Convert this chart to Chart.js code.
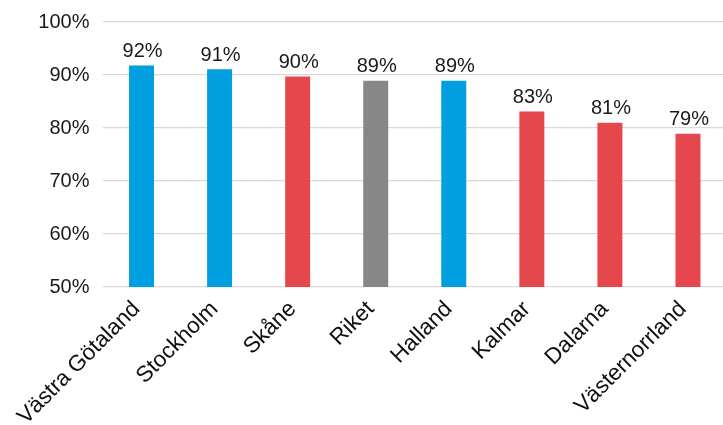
<!DOCTYPE html>
<html><head><meta charset="utf-8">
<script src="https://cdn.jsdelivr.net/npm/chart.js@4"></script>
<style>html,body{margin:0;padding:0;overflow:hidden;background:#fff}#wrap{position:relative;width:727px;height:428px;margin-top:-3px}</style>
</head><body><div id="wrap"><canvas id="c"></canvas></div>
<script>
const categories = ["Västra Götaland","Stockholm","Skåne","Riket","Halland","Kalmar","Dalarna","Västernorrland"];
const values = [91.8, 91.1, 89.7, 88.9, 88.9, 83.1, 81.0, 78.9];
const valueLabels = ["92%","91%","90%","89%","89%","83%","81%","79%"];
const barColors = ["#009fdf","#009fdf","#e6474c","#878787","#009fdf","#e6474c","#e6474c","#e6474c"];
const yTicks = [50, 60, 70, 80, 90, 100];

const FONT = "'Liberation Sans', Arial, Helvetica, sans-serif";

const valueLabelPlugin = {
  id: 'valueLabels',
  afterDatasetsDraw(chart) {
    const ctx = chart.ctx;
    const meta = chart.getDatasetMeta(0);
    ctx.save();
    ctx.font = "20px " + FONT;
    ctx.fillStyle = "#1a1a1a";
    ctx.textAlign = "center";
    ctx.textBaseline = "bottom";
    meta.data.forEach((bar, i) => {
      ctx.fillText(valueLabels[i], bar.x + 1, bar.y - 4);
    });
    ctx.restore();
  }
};

new Chart(document.getElementById('c'), {
  type: 'bar',
  data: {
    labels: categories,
    datasets: [{
      data: values,
      backgroundColor: barColors,
      borderWidth: 0,
      barPercentage: 0.32,
      categoryPercentage: 1.0
    }]
  },
  options: {
    responsive: true,
    maintainAspectRatio: false,
    animation: false,
    devicePixelRatio: 1,
    layout: { padding: { top: 16, right: 0, left: 0, bottom: 0 } },
    plugins: { legend: { display: false }, tooltip: { enabled: false } },
    scales: {
      x: {
        grid: { display: false, drawTicks: false },
        border: { display: false },
        ticks: {
          color: "#111",
          font: { family: FONT, size: 22.5 },
          minRotation: 45, maxRotation: 45,
          padding: 9,
          labelOffset: -5,
          autoSkip: false
        },
        afterFit(scale) { scale.height = 138; }
      },
      y: {
        min: 50, max: 100,
        afterBuildTicks(scale) { scale.ticks = yTicks.map(v => ({ value: v })); },
        grid: { color: "#d9d9d9", lineWidth: 1.3, drawTicks: false },
        border: { display: false },
        ticks: {
          color: "#1a1a1a",
          font: { family: FONT, size: 20 },
          padding: 13,
          callback: v => v + "%"
        },
        afterFit(scale) { scale.width = 102.5; }
      }
    }
  },
  plugins: [valueLabelPlugin]
});
</script>
</body></html>
